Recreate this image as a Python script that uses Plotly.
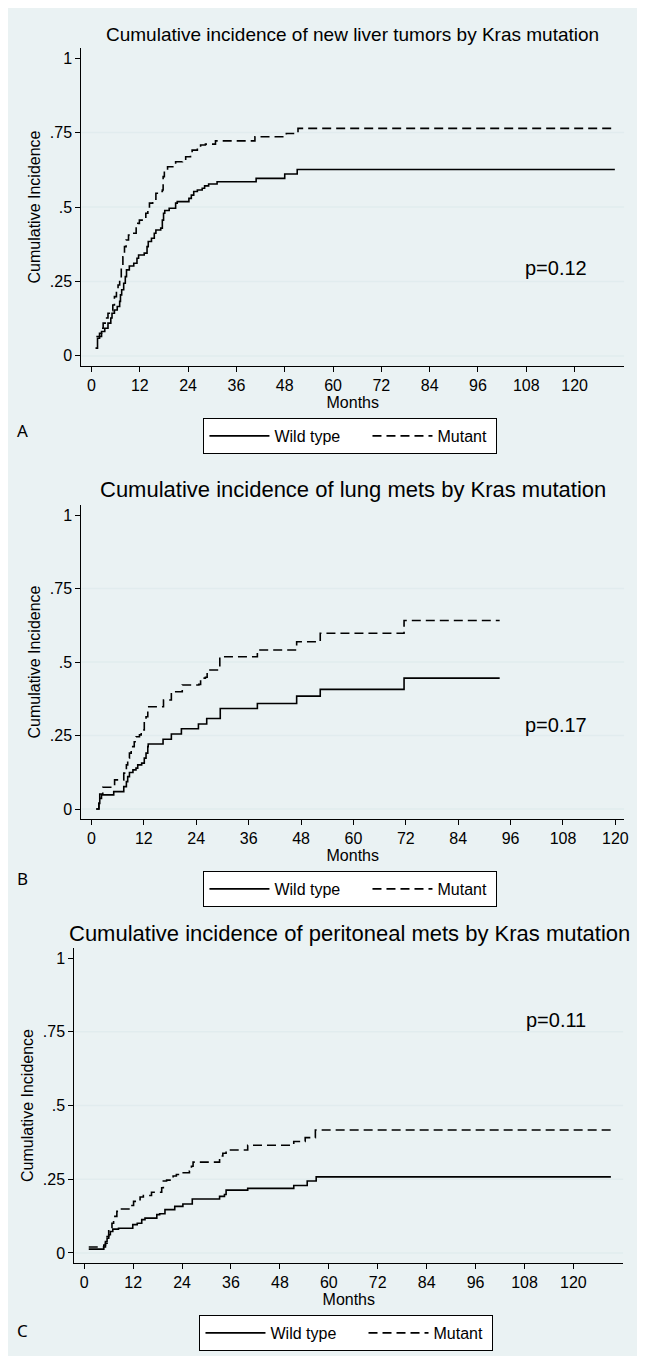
import plotly.graph_objects as go

# The page body has an 8px default margin, so the figure is sized to fit inside the window.
WIN_W, WIN_H = 650, 1364
OFF = 8
W, H = WIN_W - 2 * OFF, WIN_H - 2 * OFF

# ---------------- data ----------------
# Panel A: new liver tumors
a_wt_t = [1.0, 1.5, 2.0, 2.5, 3.3, 4.1, 4.8, 5.1, 5.7, 6.4, 7.0, 7.2, 7.5, 8.0, 8.4, 8.7, 9.4, 10.5,
          11.3, 11.7, 13.1, 13.8, 14.1, 14.9, 15.6, 16.0, 17.2, 17.6, 17.9, 18.2, 19.3, 20.9, 21.3,
          24.2, 24.8, 25.4, 26.3, 27.5, 28.1, 29.1, 31.2, 40.9, 48.0, 51.1, 130.0]
a_wt_v = [0.026, 0.059, 0.065, 0.082, 0.093, 0.110, 0.127, 0.143, 0.154, 0.166, 0.183, 0.205, 0.222,
          0.244, 0.266, 0.289, 0.302, 0.311, 0.328, 0.339, 0.345, 0.367, 0.384, 0.395, 0.412, 0.423,
          0.429, 0.456, 0.479, 0.488, 0.496, 0.513, 0.518, 0.529, 0.540, 0.552, 0.557, 0.563, 0.571,
          0.577, 0.585, 0.596, 0.611, 0.626, 0.626]
a_mu_t = [1.2, 2.0, 2.5, 2.9, 3.4, 4.1, 4.8, 5.3, 5.7, 6.2, 6.6, 7.0, 7.4, 7.8, 8.2, 8.6, 9.2, 10.2,
          11.1, 11.5, 11.9, 13.5, 14.0, 14.4, 15.2, 16.0, 16.8, 17.6, 17.8, 18.1, 18.9, 20.9, 22.6,
          23.4, 24.6, 25.0, 26.3, 27.1, 28.3, 30.8, 40.6, 48.4, 50.5, 51.3, 130.0]
a_mu_v = [0.065, 0.076, 0.093, 0.110, 0.127, 0.143, 0.152, 0.171, 0.199, 0.216, 0.238, 0.266, 0.300,
          0.333, 0.367, 0.389, 0.406, 0.412, 0.429, 0.445, 0.456, 0.479, 0.496, 0.513, 0.526, 0.546,
          0.552, 0.557, 0.602, 0.624, 0.635, 0.652, 0.658, 0.669, 0.680, 0.691, 0.697, 0.708, 0.711,
          0.722, 0.736, 0.747, 0.751, 0.764, 0.764]

# Panel B: lung mets
b_wt_t = [1.1, 1.7, 1.9, 2.3, 5.1, 7.4, 8.0, 8.3, 8.7, 9.5, 10.2, 10.6, 11.5, 12.1, 12.5, 12.9,
          13.0, 16.4, 18.3, 20.6, 24.5, 26.4, 29.5, 38.0, 47.0, 52.4, 71.6, 93.5]
b_wt_v = [0.0, 0.019, 0.036, 0.048, 0.059, 0.076, 0.093, 0.110, 0.124, 0.133, 0.139, 0.150, 0.156,
          0.173, 0.190, 0.212, 0.221, 0.237, 0.255, 0.273, 0.289, 0.308, 0.342, 0.359, 0.384, 0.407,
          0.445, 0.445]
b_mu_t = [1.1, 1.7, 1.9, 2.6, 5.3, 7.4, 8.0, 8.3, 8.7, 9.1, 9.8, 10.2, 11.0, 11.4, 12.1, 12.5,
          12.9, 16.5, 18.3, 20.8, 24.6, 25.0, 26.1, 26.5, 29.4, 38.0, 47.0, 52.4, 71.6, 93.5]
b_mu_v = [0.0, 0.031, 0.051, 0.074, 0.099, 0.122, 0.150, 0.173, 0.190, 0.212, 0.229, 0.246, 0.252,
          0.269, 0.297, 0.314, 0.348, 0.371, 0.399, 0.422, 0.424, 0.445, 0.448, 0.473, 0.518, 0.541,
          0.569, 0.598, 0.641, 0.641]

# Panel C: peritoneal mets
c_wt_t = [1.1, 4.8, 5.2, 5.6, 6.0, 6.4, 7.0, 8.4, 11.9, 13.0, 14.1, 14.9, 17.8, 18.5, 19.8, 22.2,
          24.2, 26.5, 33.2, 34.4, 34.8, 40.1, 51.4, 54.7, 56.9, 129.2]
c_wt_v = [0.013, 0.027, 0.039, 0.050, 0.062, 0.073, 0.081, 0.084, 0.096, 0.101, 0.113, 0.118, 0.130,
          0.133, 0.147, 0.158, 0.166, 0.183, 0.192, 0.198, 0.213, 0.219, 0.229, 0.244, 0.258, 0.258]
c_mu_t = [1.1, 5.2, 5.6, 6.0, 6.8, 7.2, 8.0, 8.8, 11.3, 12.1, 13.0, 13.7, 14.5, 16.5, 19.0, 19.4,
          20.2, 21.8, 22.6, 23.4, 25.8, 26.3, 26.7, 33.2, 34.0, 34.8, 40.1, 51.4, 54.2, 56.7, 129.2]
c_mu_v = [0.020, 0.033, 0.056, 0.079, 0.101, 0.124, 0.141, 0.149, 0.161, 0.175, 0.181, 0.190, 0.195,
          0.206, 0.221, 0.244, 0.247, 0.261, 0.266, 0.272, 0.278, 0.294, 0.308, 0.329, 0.338, 0.349,
          0.365, 0.378, 0.391, 0.417, 0.417]

for _t, _v in [(a_wt_t, a_wt_v), (a_mu_t, a_mu_v), (b_wt_t, b_wt_v), (b_mu_t, b_mu_v),
               (c_wt_t, c_wt_v), (c_mu_t, c_mu_v)]:
    assert len(_t) == len(_v)

titles = ["Cumulative incidence of new liver tumors by Kras mutation",
          "Cumulative incidence of lung mets by Kras mutation",
          "Cumulative incidence of peritoneal mets by Kras mutation"]
pvals = ["p=0.12", "p=0.17", "p=0.11"]
letters = ["A", "B", "C"]
series_names = ["Wild type", "Mutant"]
x_ticks = [0, 12, 24, 36, 48, 60, 72, 84, 96, 108, 120]
y_ticks = [0, 0.25, 0.5, 0.75, 1]
y_ticktext = ["0", ".25", ".5", ".75", "1"]
grid_vals = [0, 0.25, 0.5, 0.75]

# ---------------- layout helpers (window pixel -> paper) ----------------
def px(x):
    return min(max((x - OFF) / W, 0), 1)

def py(y):
    return min(max(1 - (y - OFF) / H, 0), 1)

FONT = "Liberation Sans, Arial, sans-serif"
BG = "#EAF2F3"
GRID = "#E1ECEE"
DASH = "9px,5px"
NB = "\u00a0"

panels = [
    dict(box=(82, 629, 48, 366), xr=[-2.5, 132.3], title_y=35, title_x=355.5, title_size=19,
         letter_y=431, p=(560, 268), legend=(205, 418)),
    dict(box=(82, 629, 505, 819), xr=[-2.3, 122.0], title_y=490, title_x=355.5, title_size=22,
         letter_y=878, p=(560, 725), legend=(205, 871)),
    dict(box=(75, 628, 948, 1263), xr=[-2.4, 132.2], title_y=933, title_x=352, title_size=22,
         letter_y=1330, p=(560, 1020), legend=(201, 1315)),
]

data = [
    ((a_wt_t, a_wt_v), (a_mu_t, a_mu_v)),
    ((b_wt_t, b_wt_v), (b_mu_t, b_mu_v)),
    ((c_wt_t, c_wt_v), (c_mu_t, c_mu_v)),
]

fig = go.Figure()
annotations = []
shapes = [dict(type="rect", xref="paper", yref="paper", x0=px(7), x1=px(646), y0=py(1356), y1=py(7),
               fillcolor=BG, line=dict(width=0), layer="below")]

for i, (p, (wt, mu)) in enumerate(zip(panels, data)):
    sfx = "" if i == 0 else str(i + 1)
    xa, ya = "x" + sfx, "y" + sfx
    lg = "legend" + sfx
    fig.add_trace(go.Scatter(x=wt[0], y=wt[1], mode="lines", line_shape="hv",
                             name=series_names[0] + NB * 5,
                             line=dict(color="black", width=1.6), xaxis=xa, yaxis=ya, legend=lg))
    fig.add_trace(go.Scatter(x=mu[0], y=mu[1], mode="lines", line_shape="hv",
                             name=series_names[1] + NB,
                             line=dict(color="black", width=1.6, dash=DASH), xaxis=xa, yaxis=ya,
                             legend=lg))
    l, r, t, b = p["box"]
    fig.update_layout(**{
        "xaxis" + sfx: dict(domain=[px(l), px(r)], range=p["xr"], tickvals=x_ticks, ticks="outside",
                            ticklen=5, tickcolor="black", showline=True, linecolor="black", linewidth=1.3,
                            showgrid=False, zeroline=False, anchor=ya, fixedrange=True,
                            tickfont=dict(family=FONT, size=16, color="black"),
                            title=dict(text="Months", font=dict(family=FONT, size=16, color="black"),
                                       standoff=0)),
        "yaxis" + sfx: dict(domain=[py(b), py(t)], range=[-0.034, 1.034], tickvals=y_ticks,
                            ticktext=y_ticktext, ticks="outside", ticklen=5, tickcolor="black",
                            showline=True, linecolor="black", linewidth=1.3, showgrid=False,
                            zeroline=False, anchor=xa, fixedrange=True,
                            tickfont=dict(family=FONT, size=16, color="black"),
                            title=dict(text="Cumulative Incidence",
                                       font=dict(family=FONT, size=16, color="black"), standoff=5)),
        lg: dict(x=px(p["legend"][0]), y=py(p["legend"][1]), xanchor="left", yanchor="top",
                 orientation="h", bgcolor="white", bordercolor="black", borderwidth=1,
                 font=dict(family=FONT, size=16, color="black"), itemwidth=60,
                 entrywidth=0, tracegroupgap=0),
    })
    for g in grid_vals:
        shapes.append(dict(type="line", xref=xa + " domain", yref=ya, x0=0, x1=1, y0=g, y1=g,
                           line=dict(color=GRID, width=1.5), layer="below"))
    annotations.append(dict(text=titles[i], xref="paper", yref="paper", x=px(p["title_x"]),
                            y=py(p["title_y"]), xanchor="center", yanchor="middle", showarrow=False,
                            font=dict(family=FONT, size=p["title_size"], color="black")))
    annotations.append(dict(text=pvals[i], xref="paper", yref="paper", x=px(p["p"][0]),
                            y=py(p["p"][1]), xanchor="center", yanchor="middle", showarrow=False,
                            font=dict(family=FONT, size=20, color="black")))
    annotations.append(dict(text=letters[i], xref="paper", yref="paper", x=px(23),
                            y=py(p["letter_y"]), xanchor="center", yanchor="middle", showarrow=False,
                            font=dict(family="Noto Sans, sans-serif", size=17, color="black")))

fig.update_layout(width=W, height=H, margin=dict(l=0, r=0, t=0, b=0), paper_bgcolor="white",
                  plot_bgcolor="white", shapes=shapes, annotations=annotations,
                  font=dict(family=FONT, color="black"), hovermode=False)

fig.write_html("out.html")
